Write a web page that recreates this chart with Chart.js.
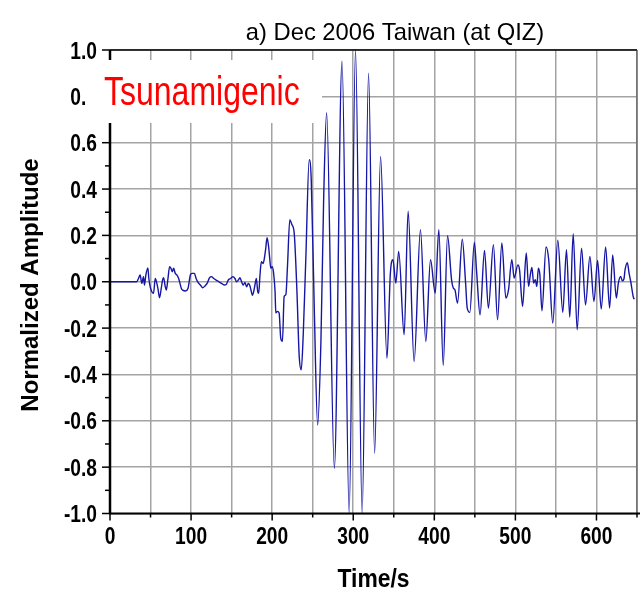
<!DOCTYPE html>
<html>
<head>
<meta charset="utf-8">
<script src="https://cdn.jsdelivr.net/npm/chart.js@4/dist/chart.umd.min.js"></script>
<style>
  html, body { margin: 0; padding: 0; background: #fff; }
  canvas { display: block; }
</style>
</head>
<body>
<canvas id="wave" width="642" height="592"></canvas>
<script>
// seismogram samples: time in seconds, amplitude normalised to the peak
const times = [
  0, 33, 35.1, 37.2, 39.2, 41.3, 42.5, 44.2, 46.7, 47.9, 49.6, 51.6, 53.7, 55.8, 57.8, 59.1,
  61.1, 63.2, 64.8, 66.1, 68.2, 69.4, 71.5, 73.5, 75.2, 76.8, 78.5, 80.5, 82.6, 84.7, 86.3, 88,
  89.6, 92.9, 96.2, 99.1, 101.2, 104.1, 106.2, 108.6, 111.5, 114.4, 116.9, 119.8, 122.7, 125.2, 128, 130.9,
  134.2, 137.5, 140.8, 143.3, 145.8, 148.7, 151.6, 154.1, 156.1, 158.2, 160.3, 162.3, 164.4, 166.5, 168.5, 170.6,
  172.2, 173.9, 175.5, 177.2, 178.8, 180.5, 182.2, 183.4, 185, 186.7, 188.8, 190.4, 192.1, 193.7, 195.4, 197,
  198.3, 199.9, 201.6, 203.6,
  204.5, 206.5, 208.6, 210.6, 212.7, 214.8, 216.9, 218.9, 221.8, 224.3, 227.2, 230.5, 233.4, 235.9, 238.4, 241.6,
  245.7, 248.2, 251.9, 256.1, 260.2, 263.5, 267.2, 276.7, 286.2, 295, 302.8, 311, 318.9, 326.4, 333.7, 341.6,
  345.8, 349, 352.5, 356.1, 362.8, 367.7, 375.1, 382.9, 389.5, 395.3, 401.1, 405.6, 411, 416.3, 421.3, 423.4,
  425.4, 428.7, 434.5, 438.6, 440.6, 443.8, 449.4, 452.3, 456.4, 461.9, 466.7, 472.9, 478, 483.3, 488.2, 491.5,
  495.6, 498.5, 503.1, 505.1, 508.9, 513.4, 516.3, 518.4, 520.4, 522.5, 524.5, 526.5, 528.3, 530.2, 532.8, 537.8,
  541.1, 546.1, 552.3, 558.5, 563, 567.1, 571.3, 576.2, 581.6, 586.5, 591.9, 596.9, 601.4, 605.9, 611.3, 616.2,
  620, 624.5, 627, 629.9, 631.9, 633.9, 635.3, 638.1, 640.2, 642.3, 645.6, 646.8
];
const amplitude = [
  0, 0, 0.014, 0.029, -0.007, 0.022, -0.014, 0.029, 0.06, 0.014, -0.022, -0.043, -0.05, 0.014, -0.007, -0.029,
  -0.069, -0.029, 0.007, 0.017, -0.022, -0.036, 0.014, 0.065, 0.058, 0.043, 0.058, 0.036, 0.029, 0.014, -0.007, -0.029,
  -0.036, -0.04, -0.029, 0.029, 0.036, 0.036, 0.014, -0.003, -0.014, -0.026, -0.019, -0.007, 0.017, 0.022, 0.014, 0.007,
  0, -0.007, -0.014, -0.012, 0.007, 0.014, 0.022, 0.014, 0, 0.007, 0.017, 0, -0.014, -0.003, -0.022, -0.007,
  -0.014, -0.036, -0.058, -0.043, -0.014, 0.014, -0.043, -0.05, 0.029, 0.086, 0.079, 0.101, 0.144, 0.19, 0.158, 0.101,
  0.058, 0.065, 0.043, -0.043,
  -0.135, -0.128, -0.135, -0.243, -0.257, -0.064, -0.056, 0.066, 0.268, 0.247, 0.21, -0.035, -0.323, -0.38, -0.222, 0.109,
  0.527, 0.441, -0.107, -0.618, -0.25, 0.354, 0.729, -0.805, 0.952, -1.0, 1.0, -1.0, 0.9, -0.74, 0.541, -0.33,
  0.037, 0.095, -0.006, 0.131, -0.229, 0.304, -0.344, 0.225, -0.258, 0.095, -0.049, 0.225, -0.36, 0.199, 0.008, -0.027,
  -0.035, -0.092, 0.184, -0.006, -0.114, -0.132, 0.17, 0.037, -0.143, 0.135, -0.114, 0.16, -0.164, 0.167, -0.07, -0.035,
  0.095, 0.016, 0.073, 0.052, -0.106, 0.124, -0.02, 0.03, 0.062, -0.006, 0.009, -0.02, 0.059, 0.03, -0.125, 0.15,
  0.095, -0.178, 0.179, -0.132, 0.138, -0.153, 0.207, -0.207, 0.145, -0.1, 0.109, -0.085, 0.092, -0.118, 0.15, -0.114,
  0.116, -0.07, -0.006, 0.023, 0.004, 0.012, 0.052, 0.082, 0.037, 0, -0.068, -0.075
];

const xTickLabels = [0, 100, 200, 300, 400, 500, 600];
const yTickLabels = [1.0, 0.8, 0.6, 0.4, 0.2, 0.0, -0.2, -0.4, -0.6, -0.8, -1.0];

const chartTitle = 'a) Dec 2006 Taiwan (at QIZ)';
const xTitle = 'Time/s';
const yTitle = 'Normalized Amplitude';
const tag = 'Tsunamigenic';

const FONT = "Arial, 'Liberation Sans', sans-serif";

const points = times.map((t, i) => ({ x: t, y: amplitude[i] }));

// text with a horizontal squeeze, the labels in this figure are narrow
function squeezed(ctx, text, x, y, font, sx, align) {
  ctx.save();
  ctx.translate(x, y);
  ctx.scale(sx, 1);
  ctx.font = font;
  ctx.textAlign = align;
  ctx.textBaseline = 'alphabetic';
  ctx.fillText(text, 0, 0);
  ctx.restore();
}

const frame = {
  id: 'frame',
  afterDraw(chart) {
    const ctx = chart.ctx;
    const { left, right, top, bottom } = chart.chartArea;
    const xs = chart.scales.x, ys = chart.scales.y;

    ctx.save();
    ctx.strokeStyle = '#000';

    // ticks on the left axis, major every 0.2, minor in between
    ctx.lineWidth = 1.5;
    for (let k = -10; k <= 10; k++) {
      const py = ys.getPixelForValue(k / 10);
      const len = k % 2 === 0 ? 8 : 5;
      ctx.beginPath();
      ctx.moveTo(left - len, py);
      ctx.lineTo(left, py);
      ctx.stroke();
    }
    // ticks on the bottom axis, major every 100, minor every 50
    for (let v = 0; v <= 650; v += 50) {
      const px = xs.getPixelForValue(v);
      const len = v % 100 === 0 ? 7 : 4;
      ctx.beginPath();
      ctx.moveTo(px, bottom);
      ctx.lineTo(px, bottom + len);
      ctx.stroke();
    }

    // frame
    ctx.lineWidth = 1.5;
    ctx.beginPath();
    ctx.moveTo(left, top);
    ctx.lineTo(right, top);
    ctx.stroke();
    ctx.strokeStyle = '#444';
    ctx.lineWidth = 1;
    ctx.beginPath();
    ctx.moveTo(right, top);
    ctx.lineTo(right, bottom);
    ctx.stroke();
    ctx.strokeStyle = '#000';
    ctx.lineWidth = 2.5;
    ctx.beginPath();
    ctx.moveTo(left, top);
    ctx.lineTo(left, bottom);
    ctx.stroke();
    ctx.lineWidth = 2;
    ctx.beginPath();
    ctx.moveTo(left - 1, bottom);
    ctx.lineTo(right + 3, bottom);
    ctx.stroke();

    // tick labels
    ctx.fillStyle = '#000';
    const tickFont = 'bold 24px ' + FONT;
    xTickLabels.forEach(v => {
      squeezed(ctx, String(v), xs.getPixelForValue(v), 544, tickFont, 0.8, 'center');
    });
    yTickLabels.forEach(v => {
      squeezed(ctx, v.toFixed(1), 97, ys.getPixelForValue(v) + 8.5, tickFont, 0.8, 'right');
    });

    // axis titles and heading
    squeezed(ctx, xTitle, (left + right) / 2, 587, 'bold 26px ' + FONT, 0.88, 'center');
    ctx.save();
    ctx.translate(38, 285);
    ctx.rotate(-Math.PI / 2);
    squeezed(ctx, yTitle, 0, 0, 'bold 24px ' + FONT, 1, 'center');
    ctx.restore();
    squeezed(ctx, chartTitle, 395, 40, '24px ' + FONT, 0.99, 'center');

    // white label box over the upper left corner
    ctx.fillStyle = '#fff';
    ctx.fillRect(86, 60, 236, 63);
    ctx.fillStyle = '#ff0000';
    squeezed(ctx, tag, 104, 105, '40px ' + FONT, 0.8, 'left');
    ctx.restore();
  }
};

new Chart(document.getElementById('wave'), {
  type: 'scatter',
  data: {
    datasets: [{
      data: points,
      showLine: true,
      borderColor: 'rgb(22, 22, 165)',
      borderWidth: 1.4,
      pointRadius: 0,
      cubicInterpolationMode: 'monotone',
      clip: 2
    }]
  },
  options: {
    responsive: false,
    animation: false,
    events: [],
    layout: { padding: { left: 110, top: 50, right: 5, bottom: 78.5 } },
    plugins: {
      legend: { display: false },
      tooltip: { enabled: false }
    },
    scales: {
      x: {
        type: 'linear',
        min: 0,
        max: 650,
        ticks: { display: false, stepSize: 50 },
        grid: { color: '#a3a3a3', lineWidth: 1.5, drawTicks: false },
        border: { display: false }
      },
      y: {
        min: -1,
        max: 1,
        ticks: { display: false, stepSize: 0.2 },
        grid: { color: '#a3a3a3', lineWidth: 1.5, drawTicks: false },
        border: { display: false }
      }
    }
  },
  plugins: [frame]
});
</script>
</body>
</html>
